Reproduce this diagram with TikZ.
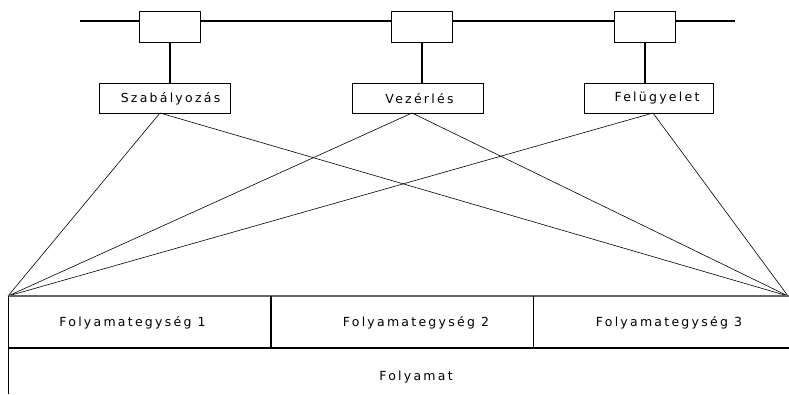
\documentclass[tikz,border=0pt]{standalone}
\usepackage{fontspec}
\setmainfont{DejaVu Sans}[LetterSpace=18]
\begin{document}
\begin{tikzpicture}[x=1pt,y=-1pt,
  stub/.style={draw,line width=1pt,fill=white,minimum width=61pt,minimum height=31pt,inner sep=0pt},
  label/.style={draw,line width=0.7pt,fill=white,minimum height=30pt,inner sep=0pt},
  txt/.style={inner sep=0pt,font=\fontsize{12.5}{13}\selectfont},
  thin/.style={line width=0.6pt}]
\useasboundingbox (0,0) rectangle (789,394);
% bus
\coordinate (busL) at (80,21);
\coordinate (busR) at (735,21);
\draw[line width=2.4pt] (busL) -- (busR);
\node[stub] (b1) at (169.5,26.5) {};
\node[stub] (b2) at (422,26.5) {};
\node[stub] (b3) at (644.5,26.5) {};
\node[label,minimum width=131pt] (s) at (164.5,98) {};
\node[label,minimum width=131pt] (v) at (417.5,98) {};
\node[label,minimum width=129pt] (f) at (648.5,98) {};
\node[txt] (st) at (170.5,98.5) {Szabályozás};
\node[txt] (vt) at (419.5,98.5) {Vezérlés};
\node[txt] (ft) at (657,98.5) {Felügyelet};
\draw[line width=2pt] (b1.south) -- (s.north -| b1.south);
\draw[line width=2pt] (b2.south) -- (v.north -| b2.south);
\draw[line width=2pt] (b3.south) -- (f.north -| b3.south);
% corners
\coordinate (L) at (8,296);
\coordinate (R) at (788,296);
\coordinate (sO) at (160,113);
\coordinate (vO) at (412,113);
\coordinate (fO) at (653,113);
\draw[thin] (sO) -- (L) (sO) -- (R);
\draw[thin] (vO) -- (L) (vO) -- (R);
\draw[thin] (fO) -- (L) (fO) -- (R);
% process rows
\draw[line width=1.5pt,black!60] (L) -- (789,296);
\draw[line width=1.5pt] (8,348) -- (789,348);
\draw[thin] (L) -- (8,394);
\draw[line width=1.5pt] (271,296) -- (271,348);
\draw[thin] (533,296) -- (533,348);
\node[txt] (p1) at (132.5,323) {Folyamategység 1};
\node[txt] (p2) at (416,323) {Folyamategység 2};
\node[txt] (p3) at (669,323) {Folyamategység 3};
\node[txt] (p) at (416,377) {Folyamat};
\end{tikzpicture}
\end{document}
